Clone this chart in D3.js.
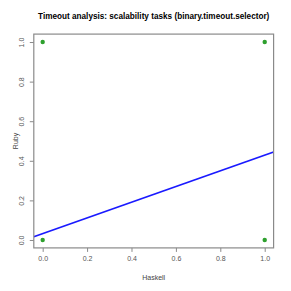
<!DOCTYPE html>
<html><head><meta charset="utf-8">
<script src="https://cdn.jsdelivr.net/npm/d3@7"></script>
<style>body{margin:0;background:#fff}svg{display:block}text{font-family:"Liberation Sans",Arial,sans-serif}</style>
</head><body>
<svg id="c" width="291" height="291"></svg>
<script>
const title = "Timeout analysis: scalability tasks (binary.timeout.selector)";
const xLabel = "Haskell", yLabel = "Ruby";
const xTicks = [0, 0.2, 0.4, 0.6, 0.8, 1.0];
const yTicks = [0, 0.2, 0.4, 0.6, 0.8, 1.0];
// observed (Haskell, Ruby) outcome pairs and how many tasks share each
const haskell = [0, 0, 1, 1];
const ruby    = [0, 1, 0, 1];
const counts  = [30, 1, 4, 3];

const svg = d3.select("#c");
const L = 33.8, R = 273.6, T = 34.1, B = 247.9;
const x = d3.scaleLinear().domain([-0.04, 1.04]).range([L, R]);
const y = d3.scaleLinear().domain([-0.04, 1.04]).range([B, T]);

// expand for regression
const xs = [], ys = [];
haskell.forEach((h, i) => { for (let k = 0; k < counts[i]; k++) { xs.push(h); ys.push(ruby[i]); } });
const mx = d3.mean(xs), my = d3.mean(ys);
const slope = d3.sum(xs.map((v, i) => (v - mx) * (ys[i] - my))) / d3.sum(xs.map(v => (v - mx) ** 2));
const icpt = my - slope * mx;

svg.append("clipPath").attr("id", "clip").append("rect")
  .attr("x", L).attr("y", T).attr("width", R - L).attr("height", B - T);

svg.append("g").selectAll("circle").data(haskell.map((h, i) => [h, ruby[i]])).join("circle")
  .attr("cx", d => x(d[0])).attr("cy", d => y(d[1])).attr("r", 2.2).attr("fill", "#2ea02e");

svg.append("line").attr("clip-path", "url(#clip)")
  .attr("x1", x(-0.04)).attr("y1", y(icpt + slope * -0.04))
  .attr("x2", x(1.04)).attr("y2", y(icpt + slope * 1.04))
  .attr("stroke", "#1a1aff").attr("stroke-width", 1.8);

svg.append("rect").attr("x", L).attr("y", T).attr("width", R - L).attr("height", B - T)
  .attr("fill", "none").attr("stroke", "#8a8a8a").attr("stroke-width", 1.2);

const xa = svg.append("g").attr("transform", `translate(0,${B})`)
  .call(d3.axisBottom(x).tickValues(xTicks).tickSize(4).tickPadding(4).tickFormat(d3.format(".1f")));
const ya = svg.append("g").attr("transform", `translate(${L},0)`)
  .call(d3.axisLeft(y).tickValues(yTicks).tickSize(4).tickPadding(4).tickFormat(d3.format(".1f")));
[xa, ya].forEach(a => {
  a.select(".domain").remove();
  a.selectAll("line").attr("stroke", "#8a8a8a");
  a.selectAll("text").attr("fill", "#555").style("font-size", "7px").style("font-family", '"Liberation Sans",Arial,sans-serif');
});
ya.selectAll("text").attr("x", 0).attr("dy", null).attr("text-anchor", "middle")
  .attr("transform", "translate(-9.5,0) rotate(-90)");

svg.append("text").attr("x", (L + R) / 2).attr("y", 19).attr("text-anchor", "middle")
  .style("font-size", "8.2px").style("font-weight", "bold").attr("fill", "#000").text(title);
svg.append("text").attr("x", (L + R) / 2).attr("y", 279.8).attr("text-anchor", "middle")
  .style("font-size", "7px").attr("fill", "#444").text(xLabel);
svg.append("text").attr("transform", `translate(17.5,${(T + B) / 2}) rotate(-90)`).attr("text-anchor", "middle")
  .style("font-size", "7px").attr("fill", "#444").text(yLabel);
</script>
</body></html>
